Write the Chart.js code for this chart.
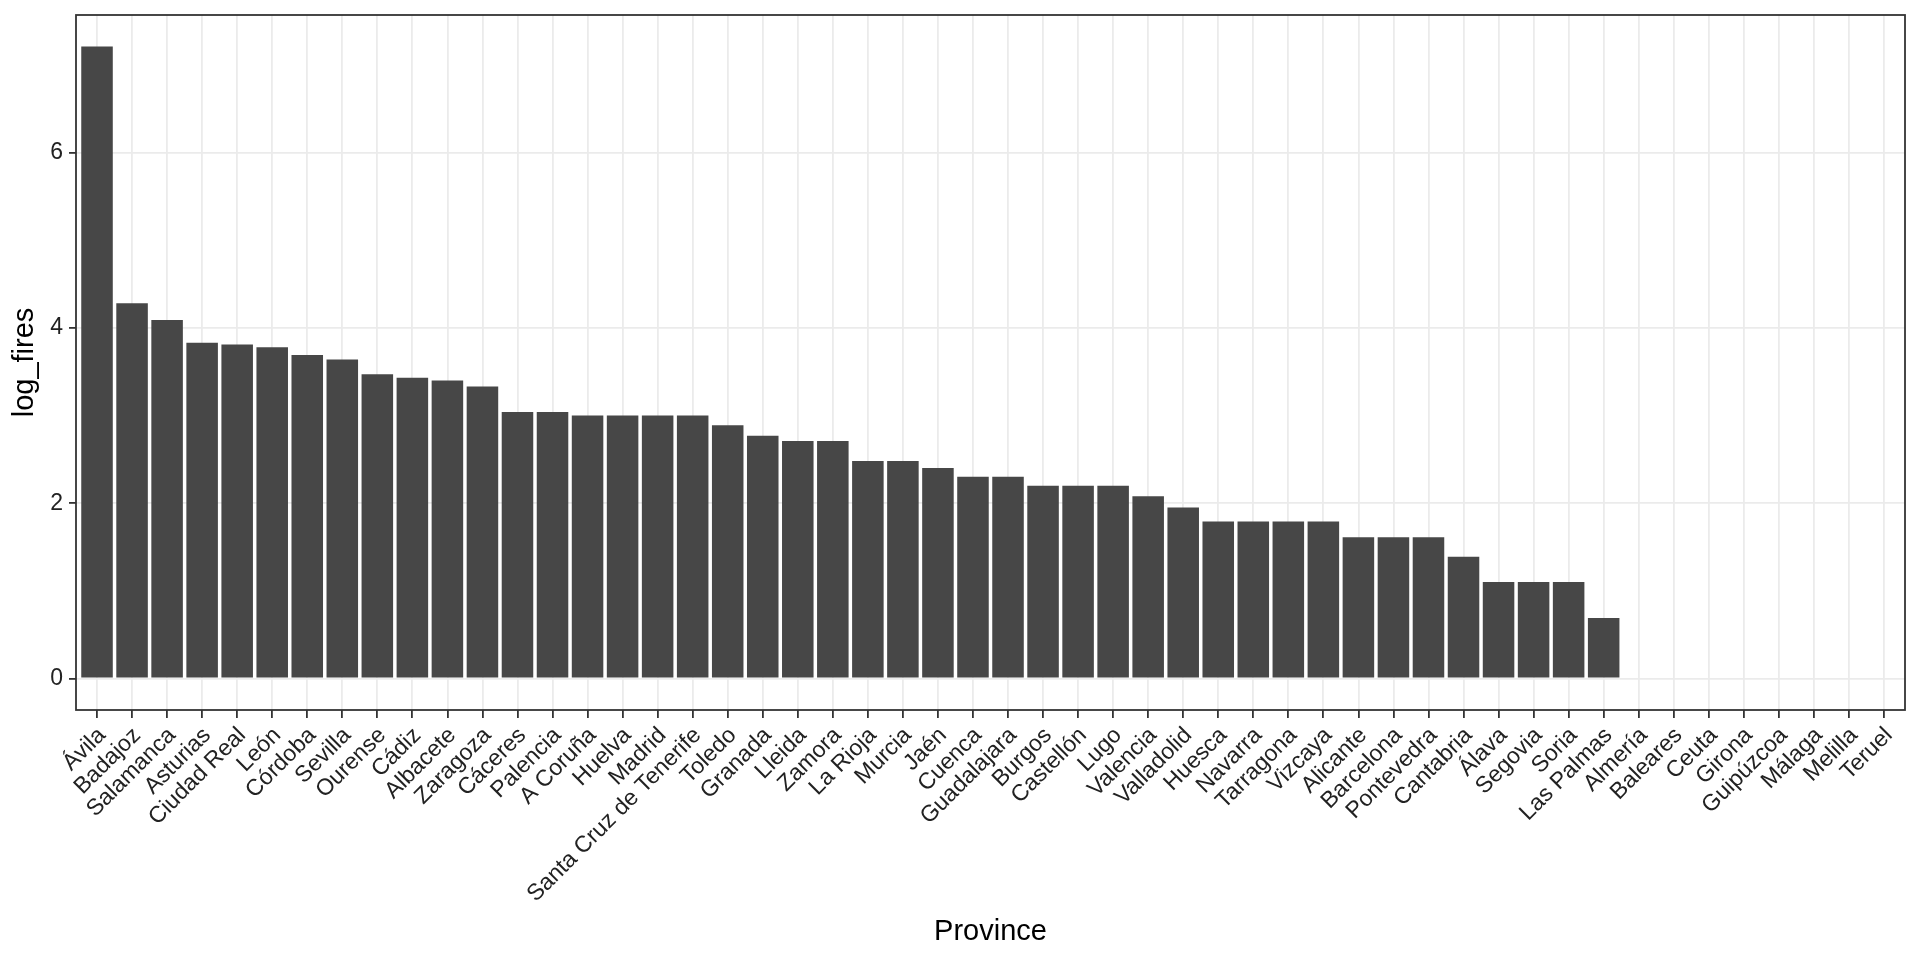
<!DOCTYPE html>
<html>
<head>
<meta charset="utf-8">
<script src="https://cdn.jsdelivr.net/npm/chart.js@4/dist/chart.umd.min.js"></script>
<style>
  html, body { margin: 0; padding: 0; background: #ffffff; }
  #wrap { width: 1920px; height: 960px; }
</style>
</head>
<body>
<div id="wrap"><canvas id="myChart" width="1920" height="960"></canvas></div>
<script>
// provinces, sorted by log_fires
var provinces = ['Ávila', 'Badajoz', 'Salamanca', 'Asturias', 'Ciudad Real', 'León', 'Córdoba', 'Sevilla',
  'Ourense', 'Cádiz', 'Albacete', 'Zaragoza', 'Cáceres', 'Palencia', 'A Coruña', 'Huelva', 'Madrid',
  'Santa Cruz de Tenerife', 'Toledo', 'Granada', 'Lleida', 'Zamora', 'La Rioja', 'Murcia', 'Jaén',
  'Cuenca', 'Guadalajara', 'Burgos', 'Castellón', 'Lugo', 'Valencia', 'Valladolid', 'Huesca', 'Navarra',
  'Tarragona', 'Vizcaya', 'Alicante', 'Barcelona', 'Pontevedra', 'Cantabria', 'Álava', 'Segovia', 'Soria',
  'Las Palmas', 'Almería', 'Baleares', 'Ceuta', 'Girona', 'Guipúzcoa', 'Málaga', 'Melilla', 'Teruel'];

var logFires = [7.21, 4.28, 4.09, 3.83, 3.81, 3.78, 3.69, 3.64,
  3.47, 3.43, 3.40, 3.33, 3.04, 3.04, 3.00, 3.00, 3.00,
  3.00, 2.89, 2.77, 2.71, 2.71, 2.48, 2.48, 2.40,
  2.30, 2.30, 2.20, 2.20, 2.20, 2.08, 1.95, 1.79, 1.79,
  1.79, 1.79, 1.61, 1.61, 1.61, 1.39, 1.10, 1.10, 1.10,
  0.69, 0, 0, 0, 0, 0, 0, 0, 0];

var yTicks = [0, 2, 4, 6];

var FONT = "'Liberation Sans', Arial, Helvetica, sans-serif";
var GRID = '#ebebeb';
var INK = '#333333';

// ggplot style panel border, drawn over the bars
var panelBorder = {
  id: 'panelBorder',
  afterDraw: function(chart) {
    var a = chart.chartArea;
    var ctx = chart.ctx;
    ctx.save();
    ctx.strokeStyle = INK;
    ctx.lineWidth = 1.8;
    ctx.strokeRect(a.left, a.top, a.right - a.left, a.bottom - a.top);
    ctx.restore();
  }
};

var points = logFires.map(function(v, i) { return { x: i, y: v }; });

var ctx = document.getElementById('myChart').getContext('2d');
var myChart = new Chart(ctx, {
  type: 'bar',
  data: {
    datasets: [{
      label: 'log_fires',
      data: points,
      backgroundColor: '#474747',
      borderWidth: 0,
      barPercentage: 0.9,
      categoryPercentage: 1.0
    }]
  },
  options: {
    responsive: false,
    animation: false,
    layout: { padding: { top: 15, right: 15, left: 0, bottom: 0 } },
    plugins: {
      legend: { display: false },
      tooltip: { enabled: false }
    },
    scales: {
      x: {
        type: 'linear',
        offset: false,
        min: -0.6,
        max: provinces.length - 1 + 0.6,
        afterFit: function(scale) {
          scale.height = 250;
          scale.paddingLeft = 0;
          scale.paddingRight = 0;
        },
        border: { display: false },
        grid: {
          offset: false,
          color: GRID,
          lineWidth: 1.8,
          drawTicks: true,
          tickLength: 8,
          tickColor: INK,
          tickWidth: 1.8
        },
        ticks: {
          stepSize: 1,
          includeBounds: false,
          autoSkip: false,
          minRotation: 45,
          maxRotation: 45,
          padding: 4,
          labelOffset: 5,
          color: '#222222',
          font: { family: FONT, size: 23 },
          callback: function(value) { return provinces[value]; }
        },
        title: {
          display: true,
          text: 'Province',
          color: '#000000',
          font: { family: FONT, size: 29 },
          padding: { top: 0, bottom: 11 }
        }
      },
      y: {
        min: -0.36,
        max: 7.57,
        afterFit: function(scale) {
          scale.width = 76;
          scale.paddingTop = 0;
          scale.paddingBottom = 0;
        },
        afterBuildTicks: function(scale) {
          scale.ticks = yTicks.map(function(v) { return { value: v }; });
        },
        border: { display: false },
        grid: {
          color: GRID,
          lineWidth: 1.8,
          drawTicks: true,
          tickLength: 7,
          tickColor: INK,
          tickWidth: 1.8
        },
        ticks: {
          padding: 6,
          color: '#222222',
          font: { family: FONT, size: 23 }
        },
        title: {
          display: true,
          text: 'log_fires',
          color: '#000000',
          font: { family: FONT, size: 29 },
          padding: { top: 8, bottom: 0 }
        }
      }
    }
  },
  plugins: [panelBorder]
});
</script>
</body>
</html>
